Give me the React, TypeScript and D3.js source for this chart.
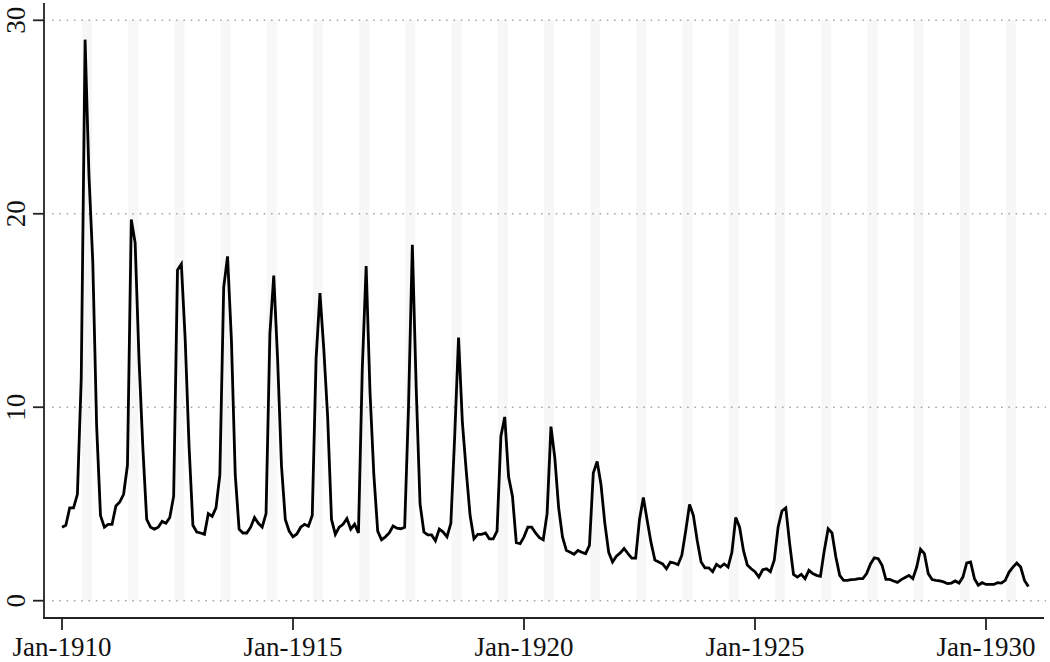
import React from "react";
import * as d3 from "d3";

// Monthly values, one array per year (Jan..Dec)
const y1910 = [3.8, 3.9, 4.8, 4.8, 5.5, 11.5, 29.0, 22.0, 17.5, 9.0, 4.4, 3.8];
const y1911 = [3.95, 3.95, 4.9, 5.1, 5.5, 7.0, 19.7, 18.5, 12.5, 7.9, 4.2, 3.8];
const y1912 = [3.7, 3.8, 4.1, 4.0, 4.3, 5.4, 17.1, 17.4, 13.5, 8.0, 3.9, 3.55];
const y1913 = [3.5, 3.43, 4.5, 4.36, 4.8, 6.5, 16.2, 17.8, 13.5, 6.5, 3.7, 3.5];
const y1914 = [3.5, 3.8, 4.3, 4.0, 3.8, 4.5, 13.8, 16.8, 12.5, 7.0, 4.2, 3.6];
const y1915 = [3.3, 3.45, 3.8, 3.95, 3.85, 4.4, 12.5, 15.9, 13.0, 9.5, 4.2, 3.43];
const y1916 = [3.8, 3.95, 4.25, 3.7, 3.95, 3.5, 12.0, 17.3, 10.8, 6.5, 3.6, 3.15];
const y1917 = [3.3, 3.5, 3.86, 3.75, 3.72, 3.8, 10.0, 18.4, 11.0, 5.0, 3.55, 3.4];
const y1918 = [3.4, 3.1, 3.7, 3.55, 3.3, 4.0, 8.5, 13.6, 9.2, 6.7, 4.4, 3.2];
const y1919 = [3.43, 3.43, 3.5, 3.2, 3.2, 3.6, 8.5, 9.5, 6.4, 5.4, 3.0, 2.95];
const y1920 = [3.3, 3.8, 3.8, 3.5, 3.26, 3.15, 4.5, 9.0, 7.4, 4.8, 3.3, 2.6];
const y1921 = [2.5, 2.4, 2.6, 2.5, 2.43, 2.86, 6.6, 7.2, 6.0, 4.0, 2.5, 2.0];
const y1922 = [2.3, 2.47, 2.7, 2.43, 2.2, 2.2, 4.2, 5.33, 4.15, 3.0, 2.1, 2.0];
const y1923 = [1.9, 1.65, 2.0, 1.95, 1.86, 2.35, 3.6, 4.98, 4.4, 3.1, 2.0, 1.7];
const y1924 = [1.7, 1.5, 1.88, 1.74, 1.9, 1.74, 2.5, 4.3, 3.8, 2.6, 1.85, 1.65];
const y1925 = [1.5, 1.22, 1.6, 1.65, 1.5, 2.1, 3.8, 4.64, 4.8, 2.95, 1.36, 1.22];
const y1926 = [1.36, 1.14, 1.57, 1.4, 1.31, 1.26, 2.6, 3.72, 3.5, 2.26, 1.31, 1.05];
const y1927 = [1.05, 1.09, 1.1, 1.14, 1.14, 1.4, 1.9, 2.22, 2.17, 1.83, 1.1, 1.1];
const y1928 = [1.02, 0.95, 1.09, 1.2, 1.31, 1.14, 1.74, 2.66, 2.43, 1.4, 1.09, 1.05];
const y1929 = [1.02, 0.97, 0.88, 0.91, 1.02, 0.91, 1.22, 1.95, 2.0, 1.14, 0.8, 0.93];
const y1930 = [0.84, 0.84, 0.84, 0.93, 0.91, 1.05, 1.48, 1.74, 1.95, 1.74, 1.05, 0.74];

const years = [1910, 1911, 1912, 1913, 1914, 1915, 1916, 1917, 1918, 1919, 1920, 1921, 1922, 1923, 1924, 1925, 1926, 1927, 1928, 1929, 1930];
const yearSeries = [y1910, y1911, y1912, y1913, y1914, y1915, y1916, y1917, y1918, y1919, y1920, y1921, y1922, y1923, y1924, y1925, y1926, y1927, y1928, y1929, y1930];

const xTickMonths = [0, 60, 120, 180, 240];
const xTickLabels = ["Jan-1910", "Jan-1915", "Jan-1920", "Jan-1925", "Jan-1930"];
const yTicks = [0, 10, 20, 30];

// shaded summer band, in months from January of each year
const bandStart = 5.2;
const bandEnd = 7.8;

export default function App() {
  const W = 1050;
  const H = 662;
  const x = d3.scaleLinear().domain([0, 240]).range([62, 986]);
  const y = d3.scaleLinear().domain([0, 30]).range([600.7, 20.3]);

  const data: { m: number; v: number }[] = [];
  yearSeries.forEach((arr, yi) => {
    arr.forEach((v, mi) => data.push({ m: yi * 12 + mi, v }));
  });

  const line = d3
    .line<{ m: number; v: number }>()
    .x((d) => x(d.m))
    .y((d) => y(d.v));

  const axisX = 44;
  const axisY = 618;
  const font = "'Liberation Serif', 'Times New Roman', serif";

  return (
    <svg
      width={W}
      height={H}
      style={{ position: "absolute", left: 0, top: 0, background: "#fff" }}
    >
      {/* bands */}
      {years.map((yr, i) => (
        <rect
          key={yr}
          x={x(i * 12 + bandStart)}
          y={y(30)}
          width={x(i * 12 + bandEnd) - x(i * 12 + bandStart)}
          height={y(0) - y(30)}
          fill="#f7f7f7"
        />
      ))}
      {/* gridlines */}
      {yTicks.map((t) => (
        <line
          key={t}
          x1={52}
          x2={1046}
          y1={y(t)}
          y2={y(t)}
          stroke="#a8a8a8"
          strokeWidth={1.6}
          strokeDasharray="1.6,5.7"
        />
      ))}
      {/* series */}
      <path d={line(data) || ""} fill="none" stroke="#000" strokeWidth={2.8} strokeLinejoin="miter" />
      {/* y axis */}
      <line x1={axisX} x2={axisX} y1={3} y2={axisY} stroke="#222" strokeWidth={1.8} />
      {yTicks.map((t) => (
        <g key={t}>
          <line x1={33} x2={axisX} y1={y(t)} y2={y(t)} stroke="#222" strokeWidth={1.8} />
          <text
            transform={`translate(25,${y(t)}) rotate(-90)`}
            textAnchor="middle"
            fontFamily={font}
            fontSize={27}
            fill="#111"
          >
            {t}
          </text>
        </g>
      ))}
      {/* x axis */}
      <line x1={axisX - 0.9} x2={1044} y1={axisY} y2={axisY} stroke="#222" strokeWidth={1.8} />
      {xTickMonths.map((m, i) => (
        <g key={m}>
          <line x1={x(m)} x2={x(m)} y1={axisY} y2={axisY + 12} stroke="#222" strokeWidth={1.8} />
          <text
            x={x(m)}
            y={656}
            textAnchor="middle"
            fontFamily={font}
            fontSize={27}
            fill="#111"
          >
            {xTickLabels[i]}
          </text>
        </g>
      ))}
    </svg>
  );
}
